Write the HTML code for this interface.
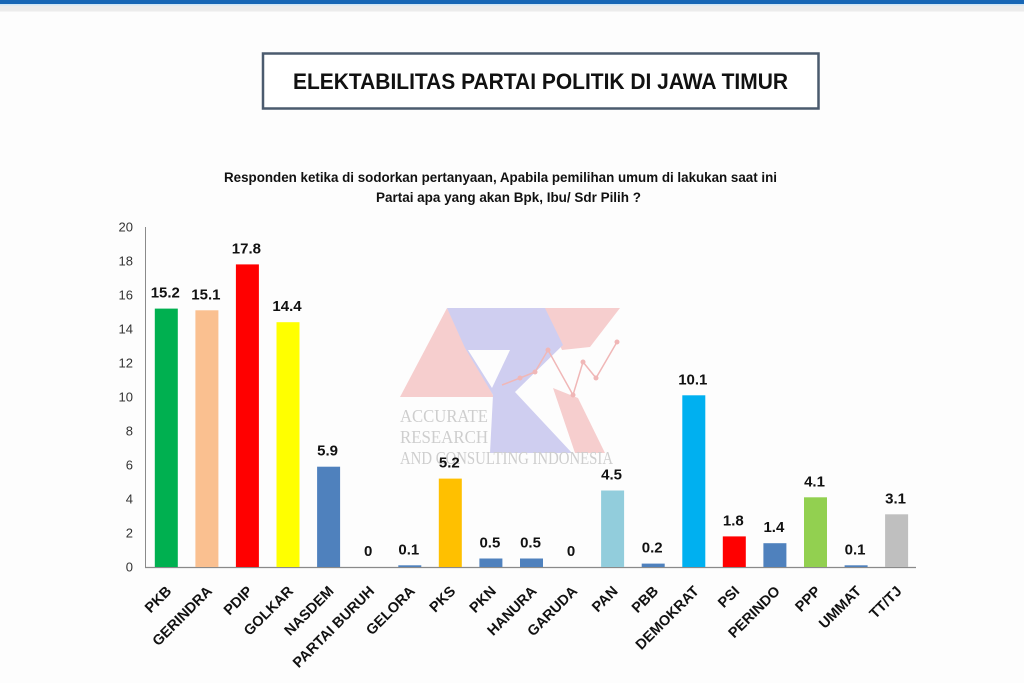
<!DOCTYPE html>
<html>
<head>
<meta charset="utf-8">
<style>
html,body{margin:0;padding:0;background:#fdfdfd;}
body{width:1024px;height:683px;overflow:hidden;}
svg{display:block;}
</style>
</head>
<body>
<svg width="1024" height="683" viewBox="0 0 1024 683" xmlns="http://www.w3.org/2000/svg" font-family="'Liberation Sans', Arial, sans-serif">
  <rect x="0" y="0" width="1024" height="683" fill="#fdfdfd"/>
  <!-- top bar -->
  <rect x="0" y="0" width="1024" height="4" fill="#1767b6"/>
  <rect x="0" y="4" width="1024" height="1.5" fill="#cfe6f6"/>
  <rect x="0" y="5.5" width="1024" height="6" fill="#ececec"/>

  <!-- title box -->
  <rect x="263" y="53.5" width="555.5" height="55" fill="#ffffff" stroke="#4b5b6e" stroke-width="2.5"/>
  <text x="540.5" y="89" text-anchor="middle" font-size="22" font-weight="bold" fill="#111" textLength="495" lengthAdjust="spacingAndGlyphs">ELEKTABILITAS PARTAI POLITIK DI JAWA TIMUR</text>

  <!-- subtitle -->
  <text x="500.5" y="182" text-anchor="middle" font-size="13.5" font-weight="bold" fill="#111" textLength="553" lengthAdjust="spacingAndGlyphs">Responden ketika di sodorkan pertanyaan, Apabila pemilihan umum di lakukan saat  ini</text>
  <text x="508.5" y="202" text-anchor="middle" font-size="13.5" font-weight="bold" fill="#111" textLength="265" lengthAdjust="spacingAndGlyphs">Partai apa yang akan Bpk, Ibu/ Sdr Pilih ?</text>

  <!-- watermark -->
  <g opacity="0.9">
    <polygon points="447,308 400,397 494,397" fill="#f6caca"/>
    <polygon points="543,308 620,308 590,347 562,350" fill="#f6caca"/>
    <polygon points="553,388 578,398 605,453 575,453" fill="#f6caca"/>
    <polygon points="447,308 545,308 563,345 515,392 572,453 490,453 493,395 465,348" fill="#cbc9ef"/>
    <polygon points="468,350 510,350 492,388" fill="#fdfdfd"/>
    <polyline points="502,385 520,378 535,372 548,350 573,395 583,362 596,378 617,342" fill="none" stroke="#efb0b0" stroke-width="1.5"/>
    <g fill="#efb0b0">
      <circle cx="520" cy="378" r="2.5"/><circle cx="535" cy="372" r="2.5"/><circle cx="548" cy="350" r="2.5"/>
      <circle cx="573" cy="395" r="2.5"/><circle cx="583" cy="362" r="2.5"/><circle cx="596" cy="378" r="2.5"/><circle cx="617" cy="342" r="2.5"/>
    </g>
    <g font-family="'Liberation Serif', 'Times New Roman', serif" fill="#c9c9c9" font-size="18">
      <text x="400" y="422" textLength="88" lengthAdjust="spacingAndGlyphs">ACCURATE</text>
      <text x="400" y="443" textLength="88" lengthAdjust="spacingAndGlyphs">RESEARCH</text>
      <text x="400" y="464" textLength="213" lengthAdjust="spacingAndGlyphs">AND CONSULTING INDONESIA</text>
    </g>
  </g>

  <!-- axes -->
  <line x1="145.5" y1="227" x2="145.5" y2="567" stroke="#8a8a8a" stroke-width="1"/>
  <line x1="145" y1="567.5" x2="916" y2="567.5" stroke="#8a8a8a" stroke-width="1.3"/>

  <!-- y tick labels -->
  <g font-size="13" fill="#333" text-anchor="end">
    <text x="133" y="571.5">0</text>
    <text x="133" y="537.5">2</text>
    <text x="133" y="503.5">4</text>
    <text x="133" y="469.5">6</text>
    <text x="133" y="435.5">8</text>
    <text x="133" y="401.5">10</text>
    <text x="133" y="367.5">12</text>
    <text x="133" y="333.5">14</text>
    <text x="133" y="299.5">16</text>
    <text x="133" y="265.5">18</text>
    <text x="133" y="231.5">20</text>
  </g>

  <!-- bars -->
  <g>
    <rect x="154.8" y="308.6" width="23" height="258.4" fill="#00b050"/>
    <rect x="195.4" y="310.3" width="23" height="256.7" fill="#fac090"/>
    <rect x="235.9" y="264.4" width="23" height="302.6" fill="#ff0000"/>
    <rect x="276.5" y="322.2" width="23" height="244.8" fill="#ffff00"/>
    <rect x="317.1" y="466.7" width="23" height="100.3" fill="#4f81bd"/>
    <rect x="398.3" y="565.3" width="23" height="1.7" fill="#4f81bd"/>
    <rect x="438.8" y="478.6" width="23" height="88.4" fill="#ffc000"/>
    <rect x="479.4" y="558.5" width="23" height="8.5" fill="#4f81bd"/>
    <rect x="520.0" y="558.5" width="23" height="8.5" fill="#4f81bd"/>
    <rect x="601.1" y="490.5" width="23" height="76.5" fill="#92cddc"/>
    <rect x="641.7" y="563.6" width="23" height="3.4" fill="#4f81bd"/>
    <rect x="682.3" y="395.3" width="23" height="171.7" fill="#00b0f0"/>
    <rect x="722.8" y="536.4" width="23" height="30.6" fill="#ff0000"/>
    <rect x="763.4" y="543.2" width="23" height="23.8" fill="#4f81bd"/>
    <rect x="804.0" y="497.3" width="23" height="69.7" fill="#92d050"/>
    <rect x="844.6" y="565.3" width="23" height="1.7" fill="#4f81bd"/>
    <rect x="885.1" y="514.3" width="23" height="52.7" fill="#bfbfbf"/>
  </g>

  <!-- data labels -->
  <g font-size="15" font-weight="bold" fill="#111" text-anchor="middle">
    <text x="165.3" y="297.6">15.2</text>
    <text x="205.9" y="299.3">15.1</text>
    <text x="246.4" y="253.4">17.8</text>
    <text x="287.0" y="311.2">14.4</text>
    <text x="327.6" y="455.7">5.9</text>
    <text x="368.2" y="556">0</text>
    <text x="408.8" y="554.3">0.1</text>
    <text x="449.3" y="467.6">5.2</text>
    <text x="489.9" y="547.5">0.5</text>
    <text x="530.5" y="547.5">0.5</text>
    <text x="571.1" y="556">0</text>
    <text x="611.6" y="479.5">4.5</text>
    <text x="652.2" y="552.6">0.2</text>
    <text x="692.8" y="384.3">10.1</text>
    <text x="733.3" y="525.4">1.8</text>
    <text x="773.9" y="532.2">1.4</text>
    <text x="814.5" y="486.3">4.1</text>
    <text x="855.1" y="554.3">0.1</text>
    <text x="895.6" y="503.3">3.1</text>
  </g>

  <!-- x labels -->
  <g font-size="14.5" font-weight="bold" fill="#111" text-anchor="end">
    <text transform="translate(172.3,592) rotate(-45)">PKB</text>
    <text transform="translate(212.9,592) rotate(-45)">GERINDRA</text>
    <text transform="translate(253.4,592) rotate(-45)">PDIP</text>
    <text transform="translate(294.0,592) rotate(-45)">GOLKAR</text>
    <text transform="translate(334.6,592) rotate(-45)">NASDEM</text>
    <text transform="translate(375.2,592) rotate(-45)">PARTAI BURUH</text>
    <text transform="translate(415.8,592) rotate(-45)">GELORA</text>
    <text transform="translate(456.3,592) rotate(-45)">PKS</text>
    <text transform="translate(496.9,592) rotate(-45)">PKN</text>
    <text transform="translate(537.5,592) rotate(-45)">HANURA</text>
    <text transform="translate(578.1,592) rotate(-45)">GARUDA</text>
    <text transform="translate(618.6,592) rotate(-45)">PAN</text>
    <text transform="translate(659.2,592) rotate(-45)">PBB</text>
    <text transform="translate(699.8,592) rotate(-45)">DEMOKRAT</text>
    <text transform="translate(740.3,592) rotate(-45)">PSI</text>
    <text transform="translate(780.9,592) rotate(-45)">PERINDO</text>
    <text transform="translate(821.5,592) rotate(-45)">PPP</text>
    <text transform="translate(862.1,592) rotate(-45)">UMMAT</text>
    <text transform="translate(902.6,592) rotate(-45)">TT/TJ</text>
  </g>
</svg>
</body>
</html>
